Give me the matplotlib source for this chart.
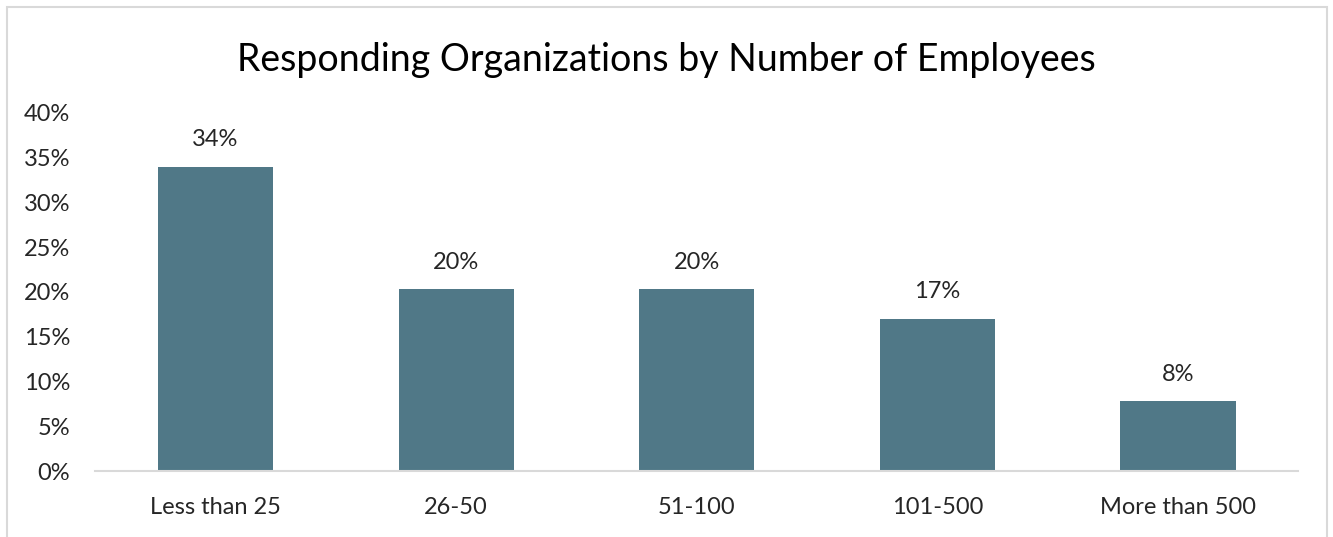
import matplotlib
matplotlib.use('Agg')
import matplotlib.pyplot as plt
from matplotlib.patches import Rectangle
from matplotlib.ticker import PercentFormatter

categories = ['Less than 25', '26-50', '51-100', '101-500', 'More than 500']
shares = [0.34, 0.203, 0.203, 0.17, 0.078]
yticks = [0, 0.05, 0.10, 0.15, 0.20, 0.25, 0.30, 0.35, 0.40]

plt.rcParams['font.family'] = ['Lato', 'DejaVu Sans']

fig = plt.figure(figsize=(13.33, 5.37), dpi=100)
ax = fig.add_axes([0.0713, 0.1229, 0.9027, 0.6667])

# light frame around the whole chart
fig.patches.append(Rectangle((0.0053, -0.02), 0.9902, 1.007, transform=fig.transFigure,
                             fill=False, edgecolor='#d9d9d9', linewidth=1.5))

x = range(len(categories))
bars = ax.bar(x, shares, width=0.478, color='#507887')

for b, v in zip(bars, shares):
	ax.annotate(f'{v:.0%}', (b.get_x() + b.get_width() / 2, v), xytext=(0, 12),
				textcoords='offset points', ha='center', va='bottom', fontsize=17, color='#262626')

ax.set_xlim(-0.5, len(categories) - 0.5)
ax.set_ylim(0, 0.4)
ax.set_yticks(yticks)
ax.yaxis.set_major_formatter(PercentFormatter(1.0, decimals=0))
ax.set_xticks(list(x))
ax.set_xticklabels(categories)
ax.tick_params(axis='both', length=0, labelsize=17, labelcolor='#262626')
ax.tick_params(axis='y', pad=18)
ax.tick_params(axis='x', pad=19)

for s in ['top', 'right', 'left']:
	ax.spines[s].set_visible(False)
ax.spines['bottom'].set_color('#d9d9d9')
ax.spines['bottom'].set_linewidth(1.5)

fig.text(0.5, 0.888, 'Responding Organizations by Number of Employees', ha='center', va='center',
		 fontsize=27, color='black')

fig.savefig('out.png', dpi=100)
